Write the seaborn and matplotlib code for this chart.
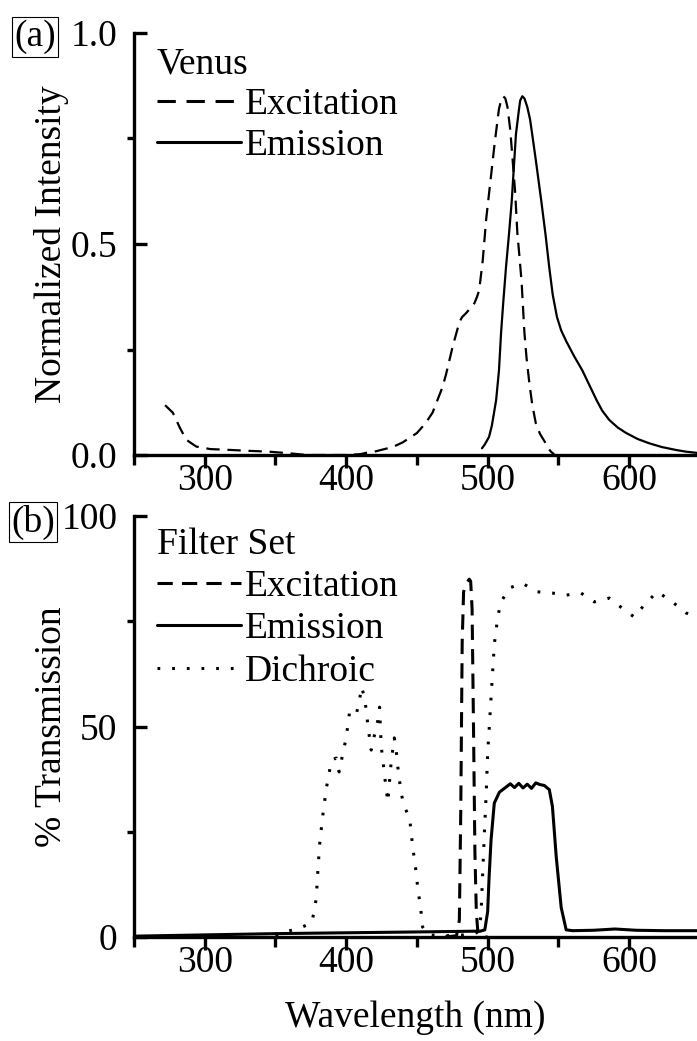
import numpy as np
import matplotlib
matplotlib.use("Agg")
import matplotlib.pyplot as plt
import seaborn as sns
from matplotlib.ticker import MultipleLocator, FormatStrFormatter

# Venus spectra (top panel)
venus_ex_nm = [272, 277.5, 282.5, 287, 294, 304, 318, 330, 345, 360, 372, 380, 400, 410, 414, 420,
               433, 440, 450, 456, 461, 464.5, 468, 470.5, 473, 475.5, 478, 480, 482, 485, 487, 489,
               490.7, 492.5, 494, 496.5, 499, 502, 505, 508, 509.5, 511, 512.5, 514, 516, 517.5,
               519.5, 521, 522.5, 524, 526, 527.5, 529.5, 531.5, 534, 537, 541, 543, 545, 547]
venus_ex = [0.118, 0.10, 0.064, 0.036, 0.02, 0.014, 0.012, 0.01, 0.008, 0.004, 0.0, 0.0, 0.0, 0.002,
            0.005, 0.008, 0.019, 0.03, 0.052, 0.075, 0.10, 0.13, 0.16, 0.19, 0.225, 0.26, 0.29,
            0.315, 0.327, 0.337, 0.345, 0.352, 0.36, 0.375, 0.39, 0.46, 0.56, 0.65, 0.74, 0.82,
            0.84, 0.85, 0.845, 0.825, 0.77, 0.706, 0.62, 0.526, 0.47, 0.41, 0.29, 0.23, 0.17,
            0.12, 0.076, 0.05, 0.028, 0.015, 0.007, 0.002]

venus_em_nm = [496, 498, 501, 503, 504.5, 506, 508, 509.5, 511, 513, 515, 517, 518.5, 520, 522,
               523, 524.5, 526, 528, 530, 531.5, 534, 536, 538, 541, 543.5, 546, 549, 552, 555.5,
               561, 567, 572, 577, 581, 586, 592, 598, 606, 614, 623, 633, 640, 648]
venus_em = [0.016, 0.025, 0.043, 0.07, 0.10, 0.13, 0.2, 0.29, 0.36, 0.446, 0.52, 0.60, 0.68,
            0.76, 0.815, 0.84, 0.85, 0.845, 0.825, 0.795, 0.76, 0.70, 0.65, 0.60, 0.52, 0.446,
            0.38, 0.327, 0.295, 0.27, 0.235, 0.20, 0.165, 0.13, 0.105, 0.083, 0.065, 0.052,
            0.038, 0.028, 0.019, 0.012, 0.008, 0.005]

# Filter set (bottom panel)
filt_ex_nm = [470, 478, 480, 481, 482, 483, 485, 487, 488, 489, 490, 491, 492, 493, 495, 500]
filt_ex = [0, 0.3, 4, 30, 70, 82, 84, 85, 84.5, 78, 50, 20, 6, 1.5, 0, 0]

filt_em_nm = [250, 300, 350, 400, 450, 495, 498, 500, 501, 502.4, 504.7, 508.3, 513, 516, 519,
              522, 525, 528, 531, 534, 537, 540, 543.6, 545.8, 548.5, 552, 555.5, 560, 575, 590,
              605, 625, 648]
filt_em = [0.2, 0.5, 0.8, 1.0, 1.2, 1.4, 1.7, 6, 14, 23, 31.8, 34.4, 35.6, 36.4, 35.5, 36.5, 35.4,
           36.3, 35.3, 36.6, 36.2, 36, 35, 31, 19, 7, 1.7, 1.5, 1.6, 1.9, 1.6, 1.5, 1.5]

dichroic_nm = [350, 357.8, 367, 375.4, 377.7, 378.9, 380, 381.3, 383.5, 386, 388, 389.5, 393, 395,
               397.7, 400, 401.2, 402.4, 407, 409.5, 410.7, 413, 414.3, 415.3, 416.5, 417.7, 420,
               422.4, 423.6, 424.8, 426, 427, 428.3, 429.4, 431.8, 434, 435.3, 436.5, 438.8, 441.2,
               444.8, 446, 447, 448.3, 449.5, 450.5, 451.8, 453, 454, 458, 470, 485, 492, 494,
               495.3, 496.5, 497.7, 499, 500, 501.2, 502.4, 503.6, 504.8, 506, 507.1, 509.5, 515.3,
               524.6, 535, 545.7, 555.4, 566, 575.4, 586, 594, 603.6, 611.8, 620, 630.6, 640, 648]
dichroic = [0.3, 1.3, 2.1, 3.3, 6.4, 9.6, 15.9, 22.3, 29, 35.4, 39, 42, 42.5, 39.2, 43.7, 47.3,
            50.4, 53.4, 52.7, 56.3, 59.4, 57, 53.4, 50.4, 47.3, 44.4, 48, 51.5, 54.6, 45.1, 42,
            38.5, 35.4, 32, 41.6, 47.3, 44.4, 40.4, 34.2, 30.9, 28.3, 24.7, 21.4, 18.3, 15.2, 11.9,
            8.8, 5.7, 2.4, 0.5, 0.3, 0.5, 1.0, 1.7, 5.2, 15.2, 24.7, 34.2, 43.7, 50, 56.8, 63.4,
            69.8, 72.9, 76, 79.6, 82.9, 84, 82, 81.7, 81.2, 81.7, 79.6, 80.5, 78.4, 76, 79.3, 82,
            79.6, 77, 76]

sns.set_style("ticks")
plt.rcParams['font.family'] = ['Liberation Serif', 'DejaVu Serif']
plt.rcParams['axes.linewidth'] = 2.4
plt.rcParams['text.color'] = 'black'
plt.rcParams['axes.labelcolor'] = 'black'
plt.rcParams['xtick.color'] = 'black'
plt.rcParams['ytick.color'] = 'black'
plt.rcParams['axes.edgecolor'] = 'black'

FS = 27
W, H = 697, 1041
fig = plt.figure(figsize=(W / 100, H / 100), dpi=100)
ax1 = fig.add_axes([134 / W, (H - 455) / H, (W - 134) / W, 422 / H])
ax2 = fig.add_axes([134 / W, (H - 937) / H, (W - 134) / W, 421 / H])

dash = (0, (6, 3.5))
dot = (0, (0.9, 3.9))

# (a) Venus
sns.lineplot(x=venus_ex_nm, y=venus_ex, ax=ax1, color='black', lw=1.6, linestyle=dash,
             estimator=None, label='Excitation')
sns.lineplot(x=venus_em_nm, y=venus_em, ax=ax1, color='black', lw=1.6,
             estimator=None, label='Emission')

# (b) filter set
sns.lineplot(x=filt_ex_nm, y=filt_ex, ax=ax2, color='black', lw=2.2, linestyle=(0, (5, 3)),
             estimator=None, label='Excitation')
sns.lineplot(x=filt_em_nm, y=filt_em, ax=ax2, color='black', lw=2.2,
             estimator=None, label='Emission')
sns.lineplot(x=dichroic_nm, y=dichroic, ax=ax2, color='black', lw=2.2, linestyle=dot,
             estimator=None, label='Dichroic')

for ax, ymax, ystep in [(ax1, 1.0, 0.5), (ax2, 100, 50)]:
    ax.set_xlim(250, 648)
    ax.set_ylim(0, ymax)
    ax.xaxis.set_major_locator(MultipleLocator(100))
    ax.xaxis.set_minor_locator(MultipleLocator(50))
    ax.yaxis.set_major_locator(MultipleLocator(ystep))
    ax.yaxis.set_minor_locator(MultipleLocator(ystep / 2))
    ax.tick_params(axis='x', which='major', direction='out', length=9, width=2.4, pad=-3,
                   labelsize=FS)
    ax.tick_params(axis='x', which='minor', direction='out', length=7, width=2.4)
    ax.tick_params(axis='y', which='major', direction='in', length=9, width=2.4, pad=12,
                   labelsize=FS)
    ax.tick_params(axis='y', which='minor', direction='out', length=5, width=2.4)
    sns.despine(ax=ax)
    ax.yaxis.set_label_coords(-0.115, 0.5)

ax1.yaxis.set_major_formatter(FormatStrFormatter('%.1f'))
ax1.set_ylabel('Normalized Intensity', fontsize=FS)
ax2.set_ylabel('% Transmission', fontsize=FS)
ax2.set_xlabel('Wavelength (nm)', fontsize=FS, labelpad=15)
ax1.set_xlabel('')

leg_kw = dict(loc='upper left', frameon=False, fontsize=FS, title_fontsize=FS,
              handlelength=2.25, handletextpad=0.1, borderpad=0, borderaxespad=0,
              alignment='left', bbox_transform=fig.transFigure)
leg1 = ax1.legend(title='Venus', labelspacing=0.17, bbox_to_anchor=(157 / W, 1 - 47 / H), **leg_kw)
leg2 = ax2.legend(title='Filter Set', labelspacing=0.21, bbox_to_anchor=(157 / W, 1 - 527 / H), **leg_kw)
for leg in (leg1, leg2):
    for h in leg.get_lines():
        h.set_linewidth(2.2)

box = dict(boxstyle='square,pad=0.06', fc='none', ec='black', lw=0.8)
fig.text(35 / W, 1 - 37 / H, '(a)', ha='center', va='center', fontsize=FS, bbox=box)
fig.text(33 / W, 1 - 522 / H, '(b)', ha='center', va='center', fontsize=FS, bbox=box)

fig.savefig('out.png', dpi=100)
